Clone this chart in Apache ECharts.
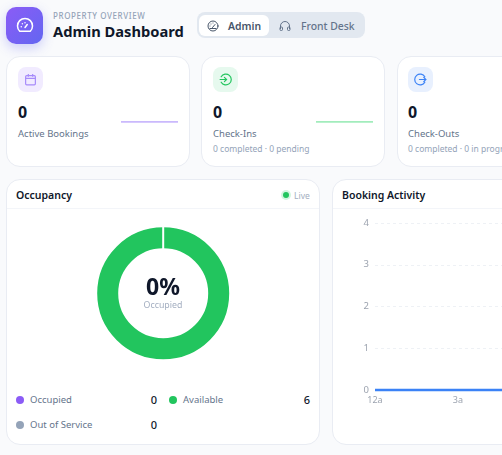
<!DOCTYPE html>
<html>
<head>
<meta charset="utf-8">
<script src="https://cdn.jsdelivr.net/npm/echarts@6/dist/echarts.min.js"></script>
<style>
html, body { margin: 0; padding: 0; width: 502px; height: 455px; overflow: hidden; background: #f9fafc; }
body { position: relative; font-family: "Noto Sans", sans-serif; color: #0f172a; }
.abs { position: absolute; white-space: nowrap; }
.logo { left: 6px; top: 7px; width: 37px; height: 37px; border-radius: 10px; background: linear-gradient(135deg, #8b5cf6, #6366f1); box-shadow: 0 4px 12px rgba(99,102,241,.3); }
.card { position: absolute; box-sizing: border-box; background: #fff; border: 1px solid #e9ecf3; border-radius: 14px; }
.ico { position: absolute; width: 25px; height: 25px; border-radius: 8px; display: flex; align-items: center; justify-content: center; }
.val { font-size: 16px; font-weight: 700; line-height: 20px; }
.lbl { font-size: 9.500px; color: #64748b; line-height: 14px; }
.sub { font-size: 8.500px; color: #94a3b8; line-height: 12px; }
.head { font-size: 10.500px; font-weight: 600; line-height: 16px; color: #0f172a; }
.dot { position: absolute; width: 8px; height: 8px; border-radius: 50%; }
.num { font-size: 11px; font-weight: 500; line-height: 14px; text-align: right; }
.chart { position: absolute; }
</style>
</head>
<body>
<div class="abs logo" style="display:flex;align-items:center;justify-content:center">
  <svg width="18" height="18" viewBox="0 0 24 24" fill="none" stroke="#fff" stroke-width="2" stroke-linecap="round"><path d="M5 19a10 10 0 1 1 14 0z"/><path d="M12 14l3-4M7 13h.01M8.500 9h.01M12 7.500h.01"/></svg>
</div>
<div class="abs" style="left:53px;top:10px;font-size:8px;line-height:12px;font-weight:500;letter-spacing:.6px;color:#94a3b8">PROPERTY OVERVIEW</div>
<div class="abs" style="left:53px;top:21px;font-size:14.700px;line-height:20px;font-weight:700">Admin Dashboard</div>

<div class="abs" style="left:197px;top:12px;width:168px;height:26px;background:#e2e8f0;border-radius:8px"></div>
<div class="abs" style="left:199px;top:15px;width:70px;height:21px;background:#fff;border-radius:6px"></div>
<svg class="abs" style="left:207px;top:20px" width="12" height="12" viewBox="0 0 24 24" fill="none" stroke="#475569" stroke-width="2" stroke-linecap="round"><circle cx="12" cy="12" r="10"/><path d="M11 15l5-6M6 12h.01M8 8h.01M12 6h.01M6 17h12"/></svg>
<div class="abs" style="left:228px;top:19px;font-size:10.400px;line-height:14px;font-weight:600;color:#475569">Admin</div>
<svg class="abs" style="left:279px;top:20px" width="12" height="12" viewBox="0 0 24 24" fill="none" stroke="#64748b" stroke-width="2"><path d="M3 18v-6a9 9 0 0 1 18 0v6"/><rect x="2" y="14" width="5" height="7" rx="2"/><rect x="17" y="14" width="5" height="7" rx="2"/></svg>
<div class="abs" style="left:301px;top:19px;font-size:10.400px;line-height:14px;font-weight:500;color:#64748b">Front Desk</div>

<div class="card" style="left:6px;top:56px;width:184px;height:111px"></div>
<div class="card" style="left:201px;top:56px;width:184px;height:111px"></div>
<div class="card" style="left:397px;top:56px;width:184px;height:111px"></div>

<div class="ico" style="left:18px;top:67px;background:#f1ebff"><svg width="13" height="13" viewBox="0 0 24 24" fill="none" stroke="#a78bfa" stroke-width="2.200"><rect x="3" y="5" width="18" height="17" rx="2"/><path d="M3 10h18M8 2v5M16 2v5"/></svg></div>
<div class="ico" style="left:213px;top:67px;background:#e6f9ee"><svg width="13" height="13" viewBox="0 0 24 24" fill="none" stroke="#22c55e" stroke-width="2.200" stroke-linecap="round"><path d="M4 7a10 10 0 1 1 0 10M2 12h12M10 8l4 4-4 4"/></svg></div>
<div class="ico" style="left:408px;top:67px;background:#e8f0fe"><svg width="13" height="13" viewBox="0 0 24 24" fill="none" stroke="#3b82f6" stroke-width="2.200" stroke-linecap="round"><path d="M20 7a10 10 0 1 0 0 10M10 12h12M18 8l4 4-4 4"/></svg></div>

<div class="abs val" style="left:18px;top:102px">0</div>
<div class="abs lbl" style="left:18px;top:127px">Active Bookings</div>
<div class="abs val" style="left:213px;top:102px">0</div>
<div class="abs lbl" style="left:213px;top:127px">Check-Ins</div>
<div class="abs sub" style="left:213px;top:143px">0 completed · 0 pending</div>
<div class="abs val" style="left:408px;top:102px">0</div>
<div class="abs lbl" style="left:408px;top:127px">Check-Outs</div>
<div class="abs sub" style="left:408px;top:143px">0 completed · 0 in progress</div>

<div id="spark1" class="chart" style="left:116px;top:112px;width:67px;height:20px"></div>
<div id="spark2" class="chart" style="left:311px;top:112px;width:67px;height:20px"></div>

<div class="card" style="left:6px;top:179px;width:314px;height:266px"></div>
<div class="abs" style="left:7px;top:208px;width:312px;height:1px;background:#f3f5f9"></div>
<div class="abs head" style="left:16px;top:187px">Occupancy</div>
<div class="abs" style="left:283px;top:192px;width:6px;height:6px;border-radius:50%;background:#22c55e;box-shadow:0 0 0 2px #d3f5e0"></div>
<div class="abs" style="left:294px;top:189px;font-size:8.500px;line-height:13px;color:#a3aec0">Live</div>

<div id="donut" class="chart" style="left:83px;top:213px;width:160px;height:160px"></div>
<div class="abs" style="left:113px;width:100px;top:271px;text-align:center;font-size:23px;line-height:30px;font-weight:700">0%</div>
<div class="abs" style="left:113px;width:100px;top:298px;text-align:center;font-size:8.800px;line-height:14px;color:#a3aec0">Occupied</div>

<div class="dot" style="left:16px;top:396px;background:#8b5cf6"></div>
<div class="abs lbl" style="left:30px;top:393px">Occupied</div>
<div class="abs num" style="left:130px;width:27px;top:393px">0</div>
<div class="dot" style="left:169px;top:396px;background:#22c55e"></div>
<div class="abs lbl" style="left:183px;top:393px">Available</div>
<div class="abs num" style="left:283px;width:27px;top:393px">6</div>
<div class="dot" style="left:16px;top:421px;background:#94a3b8"></div>
<div class="abs lbl" style="left:30px;top:418px">Out of Service</div>
<div class="abs num" style="left:130px;width:27px;top:418px">0</div>

<div class="card" style="left:332px;top:179px;width:370px;height:266px"></div>
<div class="abs" style="left:333px;top:208px;width:368px;height:1px;background:#f3f5f9"></div>
<div class="abs head" style="left:342px;top:187px">Booking Activity</div>
<div id="activity" class="chart" style="left:333px;top:210px;width:360px;height:220px"></div>

<script>
const sparkValues = [0, 0, 0, 0, 0, 0, 0]
const occupancyNames = ['Occupied', 'Available', 'Out of Service']
const occupancyValues = [0, 6, 0]
const occupancyColors = ['#8b5cf6', '#22c55e', '#94a3b8']
const hourLabels = ['12a', '1a', '2a', '3a', '4a', '5a', '6a', '7a', '8a', '9a', '10a', '11a']
const bookingValues = [0, 0, 0, 0, 0, 0, 0, 0, 0, 0, 0, 0]

const drawSpark = (id, color) => {
  const chart = echarts.init(document.getElementById(id))
  chart.setOption({
    animation: false,
    grid: { left: 5, right: 5, top: 2, bottom: 10 },
    xAxis: { type: 'category', show: false, boundaryGap: false, data: sparkValues.map((v, i) => i) },
    yAxis: { type: 'value', show: false, min: 0, max: 1 },
    series: [{ type: 'line', data: sparkValues, symbol: 'none', lineStyle: { color, width: 1.5 } }],
  })
}
drawSpark('spark1', '#b9a2fc')
drawSpark('spark2', '#84e6a7')

const donut = echarts.init(document.getElementById('donut'))
donut.setOption({
  animation: false,
  series: [{
    type: 'pie',
    center: [80.2, 80.3],
    radius: [44, 67],
    label: { show: false },
    itemStyle: { borderColor: '#fff', borderWidth: 2 },
    data: occupancyNames.map((name, i) => ({
      name,
      value: occupancyValues[i],
      itemStyle: { color: occupancyColors[i] },
    })),
  }],
})

const activity = echarts.init(document.getElementById('activity'))
activity.setOption({
  animation: false,
  grid: { left: 42, right: 14, top: 13, bottom: 40 },
  xAxis: {
    type: 'category',
    boundaryGap: false,
    data: hourLabels,
    axisLine: { show: false },
    axisTick: { show: false },
    axisLabel: { color: '#9ca3af', fontSize: 9, interval: 2, margin: 6, fontFamily: 'Noto Sans' },
  },
  yAxis: {
    type: 'value',
    min: 0,
    max: 4,
    interval: 1,
    axisLine: { show: false },
    axisTick: { show: false },
    axisLabel: { color: '#9ca3af', fontSize: 9.500, margin: 6, fontFamily: 'Noto Sans' },
    splitLine: { lineStyle: { color: '#eef1f5', type: [3, 3] } },
  },
  series: [{
    type: 'line',
    data: bookingValues,
    symbol: 'none',
    clip: false,
    lineStyle: { color: '#3b82f6', width: 2.500 },
  }],
})
</script>
</body>
</html>
